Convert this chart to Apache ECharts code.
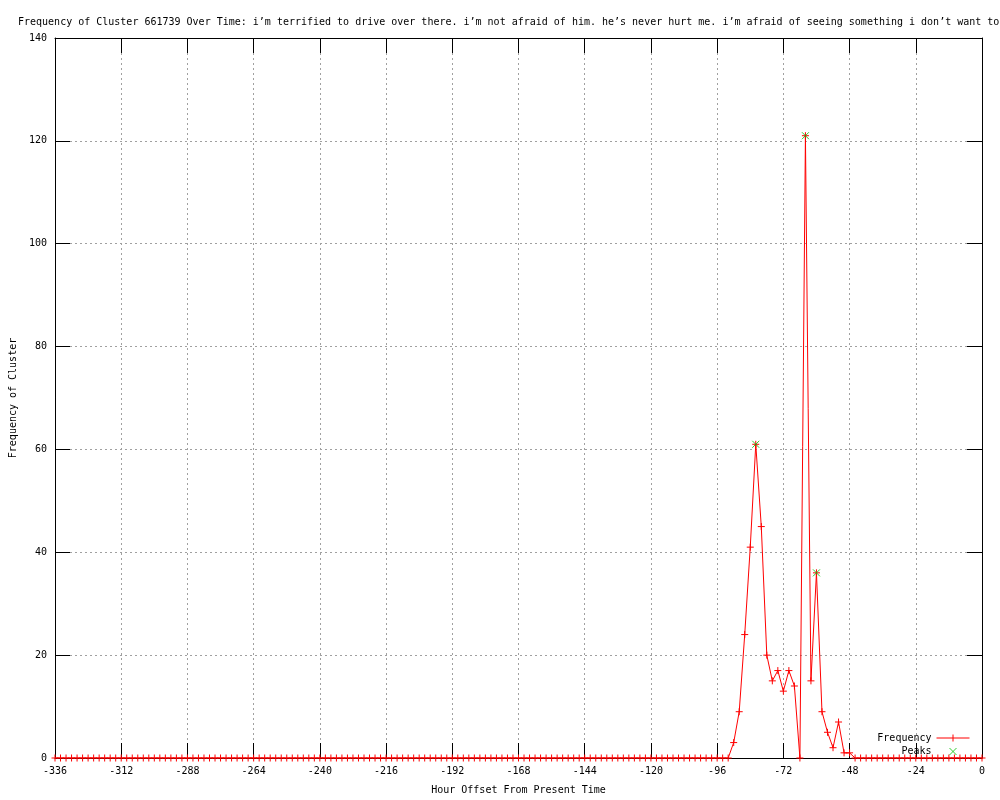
<!DOCTYPE html>
<html>
<head>
<meta charset="utf-8">
<script src="https://cdn.jsdelivr.net/npm/echarts@6/dist/echarts.min.js"></script>
<style>html,body{margin:0;padding:0;background:#fff;}#c{width:1000px;height:800px;}</style>
</head>
<body>
<div id="c"></div>
<script>
const titleText = "Frequency of Cluster 661739 Over Time: i\u2019m terrified to drive over there. i\u2019m not afraid of him. he\u2019s never hurt me. i\u2019m afraid of seeing something i don\u2019t want to";
const xTitle = "Hour Offset From Present Time";
const yTitle = "Frequency of Cluster";

const hours = [
  -336,-334,-332,-330,-328,-326,-324,-322,-320,-318,-316,-314,
  -312,-310,-308,-306,-304,-302,-300,-298,-296,-294,-292,-290,
  -288,-286,-284,-282,-280,-278,-276,-274,-272,-270,-268,-266,
  -264,-262,-260,-258,-256,-254,-252,-250,-248,-246,-244,-242,
  -240,-238,-236,-234,-232,-230,-228,-226,-224,-222,-220,-218,
  -216,-214,-212,-210,-208,-206,-204,-202,-200,-198,-196,-194,
  -192,-190,-188,-186,-184,-182,-180,-178,-176,-174,-172,-170,
  -168,-166,-164,-162,-160,-158,-156,-154,-152,-150,-148,-146,
  -144,-142,-140,-138,-136,-134,-132,-130,-128,-126,-124,-122,
  -120,-118,-116,-114,-112,-110,-108,-106,-104,-102,-100,-98,
  -96,-94,-92,-90,-88,-86,-84,-82,-80,-78,-76,-74,
  -72,-70,-68,-66,-64,-62,-60,-58,-56,-54,-52,-50,
  -48,-46,-44,-42,-40,-38,-36,-34,-32,-30,-28,-26,
  -24,-22,-20,-18,-16,-14,-12,-10,-8,-6,-4,-2,
  0
];
const frequency = [
  0,0,0,0,0,0,0,0,0,0,0,0,
  0,0,0,0,0,0,0,0,0,0,0,0,
  0,0,0,0,0,0,0,0,0,0,0,0,
  0,0,0,0,0,0,0,0,0,0,0,0,
  0,0,0,0,0,0,0,0,0,0,0,0,
  0,0,0,0,0,0,0,0,0,0,0,0,
  0,0,0,0,0,0,0,0,0,0,0,0,
  0,0,0,0,0,0,0,0,0,0,0,0,
  0,0,0,0,0,0,0,0,0,0,0,0,
  0,0,0,0,0,0,0,0,0,0,0,0,
  0,0,0,3,9,24,41,61,45,20,15,17,
  13,17,14,0,121,15,36,9,5,2,7,1,
  1,0,0,0,0,0,0,0,0,0,0,0,
  0,0,0,0,0,0,0,0,0,0,0,0,
  0
];
const peakHours = [-82, -64, -60];
const peakValues = [61, 121, 36];

const xTicks = { min: -336, max: 0, interval: 24 };
const yTicks = { min: 0, max: 140, interval: 20 };

const FONT = 'DejaVu Sans Mono';
const freqData = hours.map((h, i) => [h, frequency[i]]);
const peakData = peakHours.map((h, i) => [h, peakValues[i]]);

const chart = echarts.init(document.getElementById('c'), null, { renderer: 'canvas' });
const tickStyle = { show: true, inside: true, length: 15, lineStyle: { color: '#000', width: 1 } };
const axisLine = { show: true, onZero: false, lineStyle: { color: '#000', width: 1 } };
const splitLine = { show: true, lineStyle: { color: '#a0a0a0', width: 1, type: [2, 3] } };
const labelStyle = { color: '#000', fontSize: 10, fontFamily: FONT };

chart.setOption({
  animation: false,
  backgroundColor: '#fff',
  title: {
    text: titleText, left: 13, top: 12,
    textStyle: { fontSize: 10, fontWeight: 'normal', fontFamily: FONT, color: '#000' }
  },
  grid: { left: 55, right: 18, top: 38, bottom: 40, show: false },
  legend: [
    {
      data: [{ name: 'Frequency', icon: 'path://M0,5L33,5M16.5,1.5L16.5,8.5',
               itemStyle: { color: 'red', borderColor: 'red', borderWidth: 1 } }],
      right: 25, top: 728, align: 'right', itemWidth: 33, itemHeight: 10, itemGap: 4,
      textStyle: labelStyle, selectedMode: false
    },
    {
      data: [{ name: 'Peaks', icon: 'path://M0,0M33,10M13,1.5L20,8.5M20,1.5L13,8.5',
               itemStyle: { color: '#00c000', borderColor: '#00c000', borderWidth: 1 } }],
      right: 25, top: 741, align: 'right', itemWidth: 33, itemHeight: 10, itemGap: 4,
      textStyle: labelStyle, selectedMode: false
    }
  ],
  xAxis: [
    {
      type: 'value', position: 'bottom', min: xTicks.min, max: xTicks.max, interval: xTicks.interval,
      axisLine, axisTick: tickStyle, splitLine,
      axisLabel: Object.assign({ margin: 8 }, labelStyle),
      name: xTitle, nameLocation: 'middle', nameGap: 27,
      nameTextStyle: { color: '#000', fontSize: 10, fontFamily: FONT }
    },
    {
      type: 'value', position: 'top', min: xTicks.min, max: xTicks.max, interval: xTicks.interval,
      axisLine, axisTick: tickStyle, splitLine: { show: false }, axisLabel: { show: false }
    }
  ],
  yAxis: [
    {
      type: 'value', position: 'left', min: yTicks.min, max: yTicks.max, interval: yTicks.interval,
      axisLine, axisTick: tickStyle, splitLine,
      axisLabel: Object.assign({ margin: 8 }, labelStyle),
      name: yTitle, nameLocation: 'middle', nameGap: 37, nameRotate: 90,
      nameTextStyle: { color: '#000', fontSize: 10, fontFamily: FONT }
    },
    {
      type: 'value', position: 'right', min: yTicks.min, max: yTicks.max, interval: yTicks.interval,
      axisLine, axisTick: tickStyle, splitLine: { show: false }, axisLabel: { show: false }
    }
  ],
  series: [
    {
      name: 'Frequency', type: 'line', xAxisIndex: 0, yAxisIndex: 0,
      data: freqData,
      showAllSymbol: true,
      symbol: 'path://M5,0L5,10M0,5L10,5', symbolSize: 7,
      itemStyle: { color: 'red', borderColor: 'red', borderWidth: 1 },
      lineStyle: { color: 'red', width: 1 },
      z: 3
    },
    {
      name: 'Peaks', type: 'scatter', xAxisIndex: 0, yAxisIndex: 0,
      data: peakData,
      symbol: 'path://M0,0L10,10M10,0L0,10', symbolSize: 7,
      itemStyle: { color: '#00c000', borderColor: '#00c000', borderWidth: 1 },
      z: 4
    }
  ]
});
</script>
</body>
</html>
